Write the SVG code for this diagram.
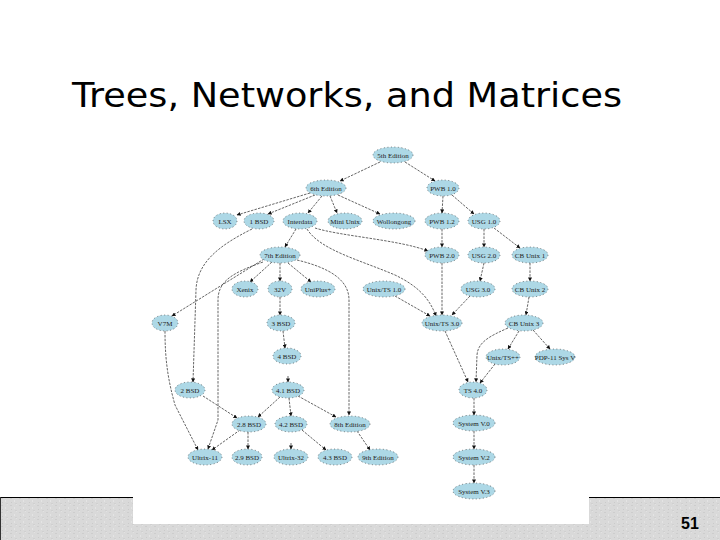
<svg xmlns="http://www.w3.org/2000/svg" width="720" height="540" viewBox="0 0 720 540">
<defs>
<marker id="ah" viewBox="0 0 10 10" refX="9" refY="5" markerWidth="4" markerHeight="4" orient="auto" markerUnits="userSpaceOnUse"><path d="M0,0 L10,5 L0,10 z" fill="#111"/></marker>
<pattern id="tex" width="9" height="7" patternUnits="userSpaceOnUse"><rect width="9" height="7" fill="#d9d9d9"/><rect x="1" y="1" width="2" height="1" fill="#cdcdcd"/><rect x="5" y="3" width="1" height="2" fill="#e4e4e4"/><rect x="2" y="5" width="1" height="1" fill="#cacaca"/><rect x="7" y="0" width="1" height="1" fill="#e2e2e2"/><rect x="6" y="6" width="2" height="1" fill="#d0d0d0"/></pattern>
<style>
.n ellipse{fill:#add8e6;stroke:#333;stroke-width:0.6;stroke-dasharray:1 2.5}
.n text{font-family:"Liberation Serif",serif;font-size:7px;fill:#222;text-anchor:middle}
#edges path{fill:none;stroke:#222;stroke-width:0.7;stroke-dasharray:2.5 1.2;marker-end:url(#ah)}
</style>
</defs>
<rect width="720" height="540" fill="#fff"/>
<rect x="0" y="497" width="720" height="43" fill="url(#tex)"/>
<line x1="0" y1="497.5" x2="720" y2="497.5" stroke="#000" stroke-width="1"/>
<line x1="0.5" y1="497" x2="0.5" y2="540" stroke="#333" stroke-width="1"/>
<rect x="133" y="130" width="456" height="394" fill="#fff"/>
<text x="72" y="107" font-family="'DejaVu Sans','Liberation Sans',sans-serif" font-size="33" textLength="550" lengthAdjust="spacingAndGlyphs" fill="#000">Trees, Networks, and Matrices</text>
<text x="690" y="529" font-family="'Liberation Sans',Arial,sans-serif" font-size="16" font-weight="bold" text-anchor="middle" fill="#000">51</text>
<g id="edges">
<path d="M380,162 L340,181"/>
<path d="M405,162 L435,181"/>
<path d="M310,193 L237,215"/>
<path d="M315,195 L268,214"/>
<path d="M322,196 L308,213"/>
<path d="M330,196 L337,213"/>
<path d="M338,195 L380,214"/>
<path d="M443,196 L442,213"/>
<path d="M452,195 L474,214"/>
<path d="M296,229 L285,247"/>
<path d="M315,228 C340,236 400,240 428,251"/>
<path d="M307,229 C320,250 360,260 395,275 C420,287 430,300 436,316"/>
<path d="M272,262 L250,282"/>
<path d="M280,263 L280,281"/>
<path d="M288,263 L311,282"/>
<path d="M264,259 L172,316"/>
<path d="M263,262 C235,272 218,280 218,300 L218,420 L208,449"/>
<path d="M297,260 C330,268 349,280 349,300 L349,415"/>
<path d="M165,331 C165,360 168,380 175,405 L198,450"/>
<path d="M252,229 C220,245 197,262 196,290 L193,382"/>
<path d="M203,396 L237,418"/>
<path d="M240,430 L212,450"/>
<path d="M248,432 L248,449"/>
<path d="M280,297 L280,315"/>
<path d="M283,331 L285,348"/>
<path d="M288,376 L288,382"/>
<path d="M289,398 L291,416"/>
<path d="M280,397 L258,417"/>
<path d="M298,396 L336,417"/>
<path d="M302,430 L326,450"/>
<path d="M291,443 L291,449"/>
<path d="M357,431 L370,450"/>
<path d="M442,229 L442,247"/>
<path d="M484,229 L484,247"/>
<path d="M494,228 L520,248"/>
<path d="M530,263 L530,281"/>
<path d="M529,297 L526,315"/>
<path d="M519,331 L508,349"/>
<path d="M533,330 L550,349"/>
<path d="M508,328 C490,336 478,342 477,355 L476,382"/>
<path d="M495,364 L480,383"/>
<path d="M445,331 L468,382"/>
<path d="M484,263 L480,281"/>
<path d="M470,296 L452,315"/>
<path d="M442,263 L442,315"/>
<path d="M395,296 L430,316"/>
<path d="M474,398 L474,415"/>
<path d="M474,431 L474,449"/>
<path d="M474,465 L474,483"/>
</g>
<g id="n5th" class="n"><ellipse cx="393" cy="155" rx="20" ry="8"/><text x="393" y="157.5">5th Edition</text></g>
<g id="n6th" class="n"><ellipse cx="326" cy="188" rx="20" ry="8"/><text x="326" y="190.5">6th Edition</text></g>
<g id="npwb10" class="n"><ellipse cx="443" cy="188" rx="16" ry="8"/><text x="443" y="190.5">PWB 1.0</text></g>
<g id="nlsx" class="n"><ellipse cx="225" cy="221" rx="12" ry="8"/><text x="225" y="223.5">LSX</text></g>
<g id="n1bsd" class="n"><ellipse cx="259" cy="221" rx="15" ry="8"/><text x="259" y="223.5">1 BSD</text></g>
<g id="ninterdata" class="n"><ellipse cx="300" cy="221" rx="17" ry="8"/><text x="300" y="223.5">Interdata</text></g>
<g id="nminiunix" class="n"><ellipse cx="345" cy="221" rx="17" ry="8"/><text x="345" y="223.5">Mini Unix</text></g>
<g id="nwollongong" class="n"><ellipse cx="394" cy="221" rx="21" ry="8"/><text x="394" y="223.5">Wollongong</text></g>
<g id="npwb12" class="n"><ellipse cx="442" cy="221" rx="17" ry="8"/><text x="442" y="223.5">PWB 1.2</text></g>
<g id="nusg10" class="n"><ellipse cx="484" cy="221" rx="16" ry="8"/><text x="484" y="223.5">USG 1.0</text></g>
<g id="n7th" class="n"><ellipse cx="280" cy="255" rx="20" ry="8"/><text x="280" y="257.5">7th Edition</text></g>
<g id="npwb20" class="n"><ellipse cx="442" cy="255" rx="17" ry="8"/><text x="442" y="257.5">PWB 2.0</text></g>
<g id="nusg20" class="n"><ellipse cx="484" cy="255" rx="16" ry="8"/><text x="484" y="257.5">USG 2.0</text></g>
<g id="ncb1" class="n"><ellipse cx="530" cy="255" rx="18" ry="8"/><text x="530" y="257.5">CB Unix 1</text></g>
<g id="nxenix" class="n"><ellipse cx="245" cy="289" rx="13" ry="8"/><text x="245" y="291.5">Xenix</text></g>
<g id="n32v" class="n"><ellipse cx="280" cy="289" rx="12" ry="8"/><text x="280" y="291.5">32V</text></g>
<g id="nuniplus" class="n"><ellipse cx="318" cy="289" rx="17" ry="8"/><text x="318" y="291.5">UniPlus+</text></g>
<g id="nunixts10" class="n"><ellipse cx="384" cy="289" rx="21" ry="8"/><text x="384" y="291.5">Unix/TS 1.0</text></g>
<g id="nusg30" class="n"><ellipse cx="478" cy="289" rx="17" ry="8"/><text x="478" y="291.5">USG 3.0</text></g>
<g id="ncb2" class="n"><ellipse cx="530" cy="289" rx="18" ry="8"/><text x="530" y="291.5">CB Unix 2</text></g>
<g id="nv7m" class="n"><ellipse cx="165" cy="323" rx="13" ry="8"/><text x="165" y="325.5">V7M</text></g>
<g id="n3bsd" class="n"><ellipse cx="281" cy="323" rx="14" ry="8"/><text x="281" y="325.5">3 BSD</text></g>
<g id="nunixts30" class="n"><ellipse cx="442" cy="323" rx="20" ry="8"/><text x="442" y="325.5">Unix/TS 3.0</text></g>
<g id="ncb3" class="n"><ellipse cx="524" cy="323" rx="19" ry="8"/><text x="524" y="325.5">CB Unix 3</text></g>
<g id="n4bsd" class="n"><ellipse cx="287" cy="356" rx="14" ry="8"/><text x="287" y="358.5">4 BSD</text></g>
<g id="nunixtspp" class="n"><ellipse cx="503" cy="357" rx="17" ry="8"/><text x="503" y="359.5">Unix/TS++</text></g>
<g id="npdp11" class="n"><ellipse cx="555" cy="357" rx="20" ry="8"/><text x="555" y="359.5">PDP-11 Sys V</text></g>
<g id="n2bsd" class="n"><ellipse cx="190" cy="390" rx="15" ry="8"/><text x="190" y="392.5">2 BSD</text></g>
<g id="n41bsd" class="n"><ellipse cx="288" cy="390" rx="16" ry="8"/><text x="288" y="392.5">4.1 BSD</text></g>
<g id="nts40" class="n"><ellipse cx="473" cy="390" rx="14" ry="8"/><text x="473" y="392.5">TS 4.0</text></g>
<g id="n28bsd" class="n"><ellipse cx="249" cy="424" rx="17" ry="8"/><text x="249" y="426.5">2.8 BSD</text></g>
<g id="n42bsd" class="n"><ellipse cx="291" cy="424" rx="16" ry="8"/><text x="291" y="426.5">4.2 BSD</text></g>
<g id="n8th" class="n"><ellipse cx="350" cy="424" rx="20" ry="8"/><text x="350" y="426.5">8th Edition</text></g>
<g id="nsysv0" class="n"><ellipse cx="474" cy="423" rx="21" ry="8"/><text x="474" y="425.5">System V.0</text></g>
<g id="nultrix11" class="n"><ellipse cx="205" cy="457" rx="17" ry="8"/><text x="205" y="459.5">Ultrix-11</text></g>
<g id="n29bsd" class="n"><ellipse cx="247" cy="457" rx="15" ry="8"/><text x="247" y="459.5">2.9 BSD</text></g>
<g id="nultrix32" class="n"><ellipse cx="291" cy="457" rx="17" ry="8"/><text x="291" y="459.5">Ultrix-32</text></g>
<g id="n43bsd" class="n"><ellipse cx="335" cy="457" rx="17" ry="8"/><text x="335" y="459.5">4.3 BSD</text></g>
<g id="n9th" class="n"><ellipse cx="378" cy="457" rx="20" ry="8"/><text x="378" y="459.5">9th Edition</text></g>
<g id="nsysv2" class="n"><ellipse cx="474" cy="457" rx="21" ry="8"/><text x="474" y="459.5">System V.2</text></g>
<g id="nsysv3" class="n"><ellipse cx="474" cy="491" rx="21" ry="8"/><text x="474" y="493.5">System V.3</text></g>
</svg>
